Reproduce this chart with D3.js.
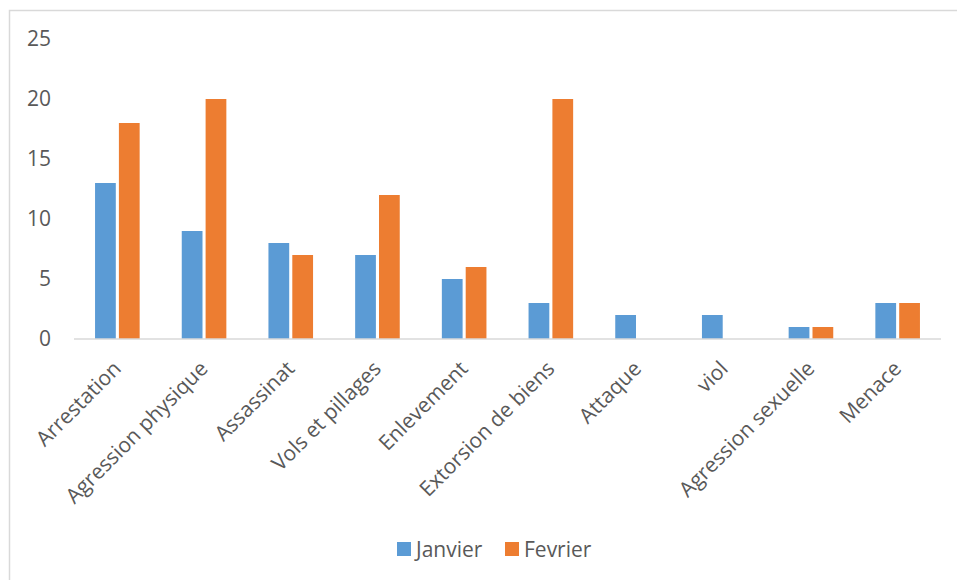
<!DOCTYPE html>
<html>
<head>
<meta charset="utf-8">
<script src="https://cdn.jsdelivr.net/npm/d3@7"></script>
<style>
  body { margin: 0; background: #fff; }
  text { font-family: 'Open Sans', sans-serif; fill: #595959; }
</style>
</head>
<body>
<svg id="container" width="957" height="580"></svg>
<script>
const categories = ['Arrestation', 'Agression physique', 'Assassinat', 'Vols et pillages',
  'Enlevement', 'Extorsion de biens', 'Attaque', 'viol', 'Agression sexuelle', 'Menace']
const janvier = [13, 9, 8, 7, 5, 3, 2, 2, 1, 3]
const fevrier = [18, 20, 7, 12, 6, 20, 0, 0, 1, 3]
const seriesNames = ['Janvier', 'Fevrier']
const seriesColors = ['#5B9BD5', '#ED7D31']
const yTicks = [0, 5, 10, 15, 20, 25]

const svg = d3.select('#container')

// chart frame (right and bottom edges fall outside the window)
svg.append('rect')
  .attr('x', 9.5).attr('y', 10.5)
  .attr('width', 1000).attr('height', 1000)
  .attr('fill', 'none')
  .attr('stroke', '#d9d9d9')
  .attr('stroke-width', 1.5)

const plotLeft = 74, plotRight = 941, plotTop = 39, plotBottom = 339
const groupW = 44.6

const x = d3.scaleBand().domain(categories).range([plotLeft, plotRight])
const x1 = d3.scaleBand().domain(seriesNames).range([0, groupW]).paddingInner(0.13)
const y = d3.scaleLinear().domain([0, 25]).range([plotBottom, plotTop])

const rows = categories.map((c, i) => ({ cat: c, vals: [janvier[i], fevrier[i]] }))

const groups = svg.append('g')
  .selectAll('g')
  .data(rows)
  .enter()
  .append('g')
  .attr('transform', (d) => `translate(${x(d.cat) + (x.bandwidth() - groupW) / 2}, 0)`)

groups.selectAll('rect')
  .data((d) => d.vals.map((v, k) => ({ name: seriesNames[k], v, k })).filter((d) => d.v > 0))
  .enter()
  .append('rect')
  .attr('x', (d) => x1(d.name))
  .attr('width', x1.bandwidth())
  .attr('y', (d) => y(d.v))
  .attr('height', (d) => y(0) - y(d.v))
  .attr('fill', (d) => seriesColors[d.k])

// baseline
svg.append('line')
  .attr('x1', plotLeft).attr('x2', plotRight)
  .attr('y1', y(0)).attr('y2', y(0))
  .attr('stroke', '#d9d9d9')
  .attr('stroke-width', 1.5)

// y axis labels
const yAxis = svg.append('g')
  .attr('transform', `translate(51, 0)`)
  .call(d3.axisLeft(y).tickValues(yTicks).tickSize(0).tickPadding(0))
yAxis.select('.domain').remove()
yAxis.selectAll('text')
  .style('font-size', '21px')
  .style('font-family', "'Open Sans', sans-serif")
  .attr('fill', '#595959')

// x axis labels, rotated
const xAxis = svg.append('g')
  .attr('transform', `translate(0, ${y(0)})`)
  .call(d3.axisBottom(x).tickSize(0))
xAxis.select('.domain').remove()
xAxis.selectAll('text')
  .style('font-size', '21px')
  .style('font-family', "'Open Sans', sans-serif")
  .attr('fill', '#595959')
  .attr('text-anchor', 'end')
  .attr('y', 0)
  .attr('dy', 0)
  .attr('transform', 'translate(5, 31) rotate(-45)')

// legend
const legend = svg.append('g')
  .selectAll('g')
  .data(seriesNames)
  .enter()
  .append('g')
  .attr('transform', (d, i) => `translate(${397 + i * 108}, 542)`)

legend.append('rect')
  .attr('width', 14).attr('height', 14)
  .attr('fill', (d, i) => seriesColors[i])

legend.append('text')
  .attr('x', 19).attr('y', 14.5)
  .style('font-size', '21px')
  .text((d) => d)
</script>
</body>
</html>
